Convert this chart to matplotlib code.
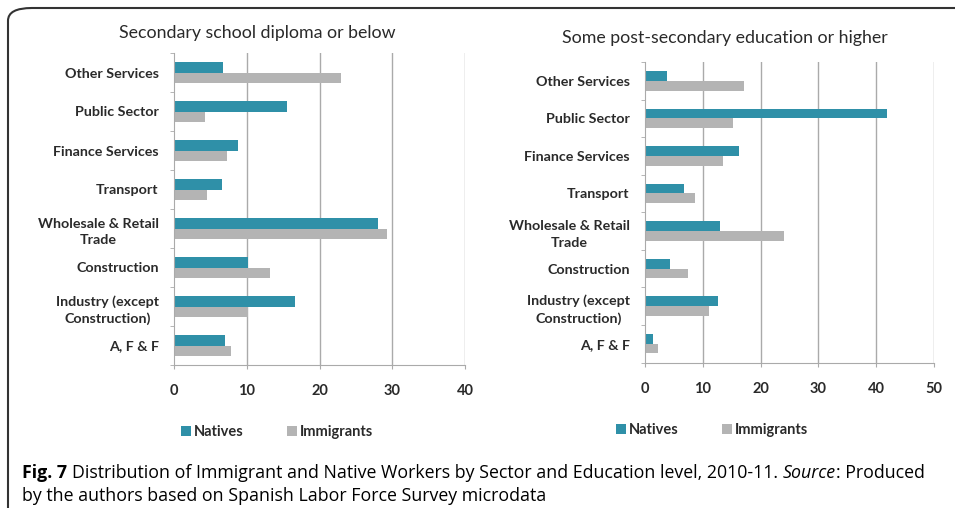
import matplotlib
matplotlib.use('Agg')
import matplotlib.pyplot as plt
import numpy as np
from matplotlib.patches import FancyBboxPatch

# 数据
sectors = ['Other Services', 'Public Sector', 'Finance Services', 'Transport',
           'Wholesale & Retail\nTrade', 'Construction', 'Industry (except\nConstruction)', 'A, F & F']
low_natives = [6.8, 15.5, 8.8, 6.6, 28.1, 10.2, 16.6, 7.0]
low_immigrants = [22.9, 4.2, 7.3, 4.6, 29.3, 13.2, 10.2, 7.8]
high_natives = [3.8, 41.9, 16.2, 6.8, 12.9, 4.3, 12.6, 1.3]
high_immigrants = [17.2, 15.3, 13.5, 8.7, 24.0, 7.5, 11.0, 2.3]
titles = ['Secondary school diploma or below', 'Some post-secondary education or higher']
xmax = [40, 50]

teal = '#2F90A8'
grey = '#B4B4B4'
W, H = 955, 508

plt.rcParams['font.family'] = ['Lato', 'DejaVu Sans']
fig = plt.figure(figsize=(W / 100, H / 100), dpi=100)

# 外框
frame = FancyBboxPatch((8 / W, -0.1), 1.1, 1 - 8 / H + 0.1, boxstyle='round,pad=0,rounding_size=0.025',
                       transform=fig.transFigure, fill=False, edgecolor='#333333', linewidth=1.5)
fig.patches.append(frame)

boxes = [[174 / W, 1 - 365 / H, 291 / W, 312 / H],
         [645 / W, 1 - 362.5 / H, 289 / W, 300.5 / H]]
data = [(low_natives, low_immigrants), (high_natives, high_immigrants)]
legend_pos = [(277 / W, 1 - 432 / H), (712 / W, 1 - 430 / H)]
title_pos = [(257 / W, 1 - 33 / H), (725 / W, 1 - 38 / H)]

for i in range(2):
    ax = fig.add_axes(boxes[i])
    y = np.arange(len(sectors))
    h = 0.26
    nat, imm = data[i]
    ax.barh(y - h / 2, nat, height=h, color=teal, label='Natives')
    ax.barh(y + h / 2, imm, height=h, color=grey, label='Immigrants')
    ax.set_ylim(len(sectors) - 0.5, -0.5)
    ax.set_xlim(0, xmax[i])
    ax.set_xticks(np.arange(0, xmax[i] + 1, 10))
    ax.set_yticks(y)
    ax.set_yticklabels(sectors, fontsize=10.3, fontweight='bold', color='#2a2a2a',
                       linespacing=1.45, multialignment='center')
    for lab in ax.get_xticklabels():
        lab.set_fontweight('bold')
    ax.set_yticks(np.arange(-0.5, len(sectors), 1), minor=True)
    ax.tick_params(axis='y', which='major', length=0, pad=11)
    ax.tick_params(axis='y', which='minor', length=3, color='#aaaaaa')
    ax.tick_params(axis='x', length=3, color='#aaaaaa', labelsize=10.5, pad=11, labelcolor='#2a2a2a')
    for s in ['top', 'right']:
        ax.spines[s].set_visible(False)
    for s in ['left', 'bottom']:
        ax.spines[s].set_color('#aaaaaa')
    for v in np.arange(10, xmax[i] + 1, 10):
        ax.axvline(v, color='#aaaaaa', linewidth=1, zorder=0)
    fig.text(title_pos[i][0], title_pos[i][1], titles[i], fontsize=12.8, color='#2a2a2a',
             ha='center', va='center')
    leg = fig.legend(*ax.get_legend_handles_labels(), loc='center', bbox_to_anchor=legend_pos[i],
                     ncol=2, frameon=False, fontsize=10.5, handlelength=0.7, handleheight=0.7,
                     handletextpad=0.2, columnspacing=3.0)
    for tx in leg.get_texts():
        tx.set_fontweight('bold')
        tx.set_color('#2a2a2a')

# 图注
cap = ['Open Sans', 'DejaVu Sans']
fs = 12.8
fig.canvas.draw()
r = fig.canvas.get_renderer()
x0 = 22 / W
y1 = 1 - 473 / H
t = fig.text(x0, y1, 'Fig. 7', fontsize=fs, fontweight='bold', family=cap, va='center')
ext = t.get_window_extent(r)
t2 = fig.text(ext.x1 / W + 0.005, y1, 'Distribution of Immigrant and Native Workers by Sector and Education level, 2010-11.',
              fontsize=fs, family=cap, va='center')
ext = t2.get_window_extent(r)
t3 = fig.text(ext.x1 / W + 0.005, y1, 'Source', fontsize=fs, style='italic', family=cap, va='center')
ext = t3.get_window_extent(r)
fig.text(ext.x1 / W, y1, ': Produced', fontsize=fs, family=cap, va='center')
fig.text(x0, 1 - 496 / H, 'by the authors based on Spanish Labor Force Survey microdata',
         fontsize=fs, family=cap, va='center')

plt.savefig('out.png', dpi=100)
